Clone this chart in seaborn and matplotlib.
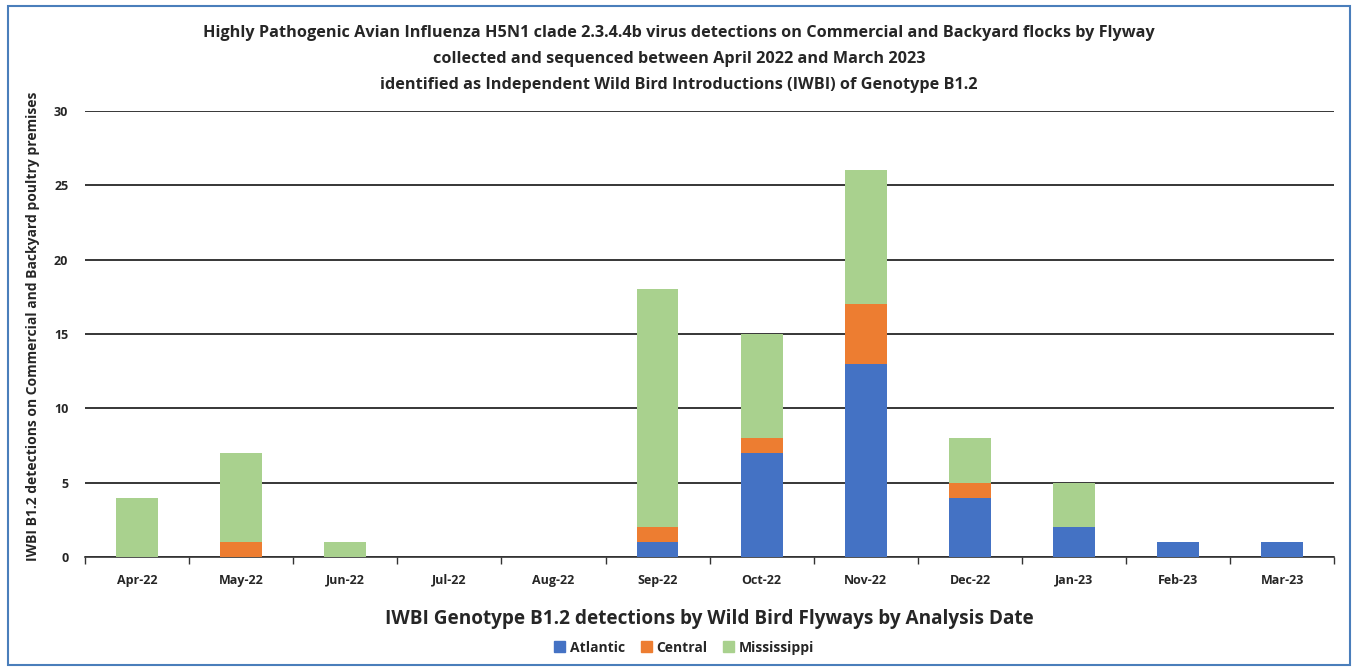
import numpy as np
import pandas as pd
import matplotlib.pyplot as plt
import matplotlib.patches as mpatches
import seaborn as sns

# values
months = ["Apr-22", "May-22", "Jun-22", "Jul-22", "Aug-22", "Sep-22",
          "Oct-22", "Nov-22", "Dec-22", "Jan-23", "Feb-23", "Mar-23"]
atlantic = [0, 0, 0, 0, 0, 1, 7, 13, 4, 2, 1, 1]
central = [0, 1, 0, 0, 0, 1, 1, 4, 1, 0, 0, 0]
mississippi = [4, 6, 1, 0, 0, 16, 7, 9, 3, 3, 0, 0]

colors = {"Atlantic": "#4472C4", "Central": "#ED7D31", "Mississippi": "#A9D18E"}

df = pd.DataFrame({"Month": months, "Atlantic": atlantic,
                   "Central": central, "Mississippi": mississippi})
df["c1"] = df["Atlantic"]
df["c2"] = df["Atlantic"] + df["Central"]
df["c3"] = df["c2"] + df["Mississippi"]

sns.set_style("white")
plt.rcParams["font.family"] = ["Open Sans", "DejaVu Sans"]
plt.rcParams["font.weight"] = "bold"

fig = plt.figure(figsize=(13.58, 6.69), dpi=100)
ax = fig.add_axes([0.0626, 0.1674, 0.92, 0.6667])

# stacked bars: draw cumulative totals from top down
for col, name in [("c3", "Mississippi"), ("c2", "Central"), ("c1", "Atlantic")]:
    sns.barplot(data=df, x="Month", y=col, color=colors[name], width=0.4,
                saturation=1, linewidth=0, ax=ax, zorder=3)

ax.set_ylim(0, 30)
ax.set_xlim(-0.5, len(months) - 0.5)
ax.set_yticks(range(0, 31, 5))
ax.yaxis.grid(True, color="black", linewidth=1.1, zorder=0)
ax.set_axisbelow(True)
for s in ["top", "right", "left"]:
    ax.spines[s].set_visible(False)
ax.spines["bottom"].set_color("#333333")
ax.spines["bottom"].set_linewidth(1.2)

# Excel style ticks between categories
ax.set_xticks(np.arange(-0.5, len(months), 1), minor=True)
ax.tick_params(axis="x", which="minor", length=5, width=1, color="#333333",
               direction="out", bottom=True)
ax.tick_params(axis="x", which="major", length=0, pad=12, labelsize=9)
ax.tick_params(axis="y", length=0, pad=12, labelsize=9)
for lab in ax.get_xticklabels() + ax.get_yticklabels():
    lab.set_fontweight("bold")

ax.set_xlabel("IWBI Genotype B1.2 detections by Wild Bird Flyways by Analysis Date",
              fontsize=13.7, fontweight="bold", labelpad=16)
ax.set_ylabel("IWBI B1.2 detections on Commercial and Backyard poultry premises",
              fontsize=10, fontweight="bold", labelpad=10)
ax.yaxis.set_label_coords(-0.036, 0.518)

fig.suptitle("Highly Pathogenic Avian Influenza H5N1 clade 2.3.4.4b virus detections on Commercial and Backyard flocks by Flyway\n"
             "collected and sequenced between April 2022 and March 2023\n"
             "identified as Independent Wild Bird Introductions (IWBI) of Genotype B1.2",
             fontsize=11.7, fontweight="bold", y=0.962, linespacing=1.8)

handles = [mpatches.Patch(color=colors[k], label=k) for k in ["Atlantic", "Central", "Mississippi"]]
fig.legend(handles=handles, loc="center", bbox_to_anchor=(0.504, 0.032), ncol=3,
           frameon=False, handlelength=0.8, handleheight=0.8,
           columnspacing=1.1, handletextpad=0.35, prop={"weight": "bold", "size": 10})

# blue frame round the figure
fig.patches.append(mpatches.Rectangle((0.006, 0.006), 0.988, 0.985, transform=fig.transFigure,
                                      fill=False, edgecolor="#4A7EBB", linewidth=1.5))

fig.savefig("out.png", dpi=100)
